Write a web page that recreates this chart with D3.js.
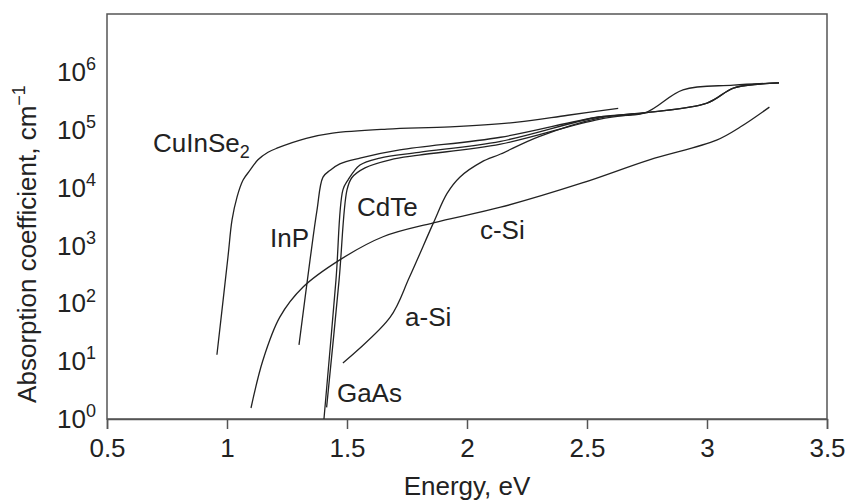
<!DOCTYPE html>
<html>
<head>
<meta charset="utf-8">
<script src="https://cdn.jsdelivr.net/npm/d3@7"></script>
<style>
  body { margin: 0; background: #fff; }
  text { font-family: "Liberation Sans", Arial, sans-serif; fill: #222; }
</style>
</head>
<body>
<div id="chart"></div>
<script>
const width = 849;
const height = 501;

// energy (eV) and log10 of absorption coefficient (cm^-1)
const cuinse2E = [0.958, 1.004, 1.021, 1.042, 1.067, 1.096, 1.129, 1.171, 1.208, 1.33, 1.44, 1.667, 1.93, 2.21, 2.42, 2.63];
const cuinse2A = [1.11, 2.8, 3.44, 3.84, 4.13, 4.30, 4.48, 4.61, 4.68, 4.85, 4.94, 5.01, 5.05, 5.13, 5.25, 5.37];

const inpE = [1.30, 1.346, 1.375, 1.40, 1.43, 1.47, 1.554, 1.72, 2.14, 2.55, 2.74, 3.0, 3.11, 3.22, 3.3];
const inpA = [1.28, 2.75, 3.61, 4.18, 4.30, 4.41, 4.51, 4.65, 4.87, 5.22, 5.29, 5.46, 5.72, 5.79, 5.81];

const gaasE = [1.404, 1.454, 1.483, 1.504, 1.554, 1.637, 1.80, 2.14, 2.55, 2.74, 2.9, 3.11, 3.3];
const gaasA = [0.0, 2.4, 3.96, 4.13, 4.39, 4.51, 4.61, 4.80, 5.22, 5.29, 5.69, 5.77, 5.81];

const cdteE = [1.415, 1.467, 1.50, 1.52, 1.575, 1.68, 1.80, 2.14, 2.55, 2.74, 3.0, 3.11, 3.22, 3.3];
const cdteA = [0.2, 2.4, 3.96, 4.17, 4.34, 4.48, 4.56, 4.75, 5.18, 5.29, 5.46, 5.72, 5.79, 5.81];

const asiE = [1.483, 1.68, 1.76, 1.86, 1.917, 1.97, 2.06, 2.14, 2.3, 2.55, 2.74];
const asiA = [0.97, 1.76, 2.45, 3.39, 3.9, 4.18, 4.44, 4.58, 4.88, 5.2, 5.29];

const csiE = [1.10, 1.15, 1.22, 1.317, 1.47, 1.65, 1.86, 2.14, 2.48, 2.76, 3.04, 3.14, 3.26];
const csiA = [0.19, 1.02, 1.76, 2.28, 2.75, 3.15, 3.39, 3.66, 4.08, 4.48, 4.82, 5.05, 5.39];

const xTicks = [0.5, 1, 1.5, 2, 2.5, 3, 3.5];
const yTicks = [0, 1, 2, 3, 4, 5, 6];

const series = [
  {name: "CuInSe2", e: cuinse2E, a: cuinse2A},
  {name: "InP", e: inpE, a: inpA},
  {name: "GaAs", e: gaasE, a: gaasA},
  {name: "CdTe", e: cdteE, a: cdteA},
  {name: "a-Si", e: asiE, a: asiA},
  {name: "c-Si", e: csiE, a: csiA}
];

const labels = [
  {text: "CuInSe", sub: "2", e: 0.692, a: 4.61},
  {text: "InP", e: 1.179, a: 2.97},
  {text: "CdTe", e: 1.542, a: 3.51},
  {text: "c-Si", e: 2.054, a: 3.11},
  {text: "a-Si", e: 1.742, a: 1.61},
  {text: "GaAs", e: 1.458, a: 0.29}
];

const margin = {left: 107, right: 22, top: 14, bottom: 82};
const fs = 26;
const fsSmall = 18;

const svg = d3.select("#chart").append("svg")
  .attr("width", width)
  .attr("height", height);

const x = d3.scaleLinear()
  .domain([0.5, 3.5])
  .range([margin.left, width - margin.right]);

const y = d3.scaleLog()
  .domain([1, 1e7])
  .range([height - margin.bottom, margin.top]);

// frame
svg.append("rect")
  .attr("x", x(0.5)).attr("y", y(1e7))
  .attr("width", x(3.5) - x(0.5))
  .attr("height", y(1) - y(1e7))
  .attr("fill", "none")
  .attr("stroke", "#555")
  .attr("stroke-width", 1.5);

const xAxis = svg.append("g")
  .attr("transform", `translate(0,${y(1)})`)
  .call(d3.axisBottom(x).tickValues(xTicks).tickSize(10).tickPadding(10)
        .tickFormat(d3.format("~g")));
xAxis.select(".domain").attr("stroke", "#555").attr("stroke-width", 1.5);
xAxis.selectAll(".tick line").attr("stroke", "#555").attr("stroke-width", 1.5);
xAxis.selectAll(".tick text")
  .attr("font-size", fs)
  .attr("fill", "#222")
  .style("font-family", "'Liberation Sans', Arial, sans-serif");

const yLab = svg.append("g");
yTicks.forEach(p => {
  const t = yLab.append("text")
    .attr("x", 60)
    .attr("y", y(Math.pow(10, p)))
    .attr("dy", "0.35em")
    .attr("font-size", fs);
  t.append("tspan").text("10");
  t.append("tspan").attr("font-size", fsSmall).attr("dy", "-0.6em").text(p);
  const w = t.node().getComputedTextLength();
  t.attr("x", 96 - w);
});

const line = d3.line()
  .x(d => x(d[0]))
  .y(d => y(Math.pow(10, d[1])))
  .curve(d3.curveCatmullRom.alpha(0.5));

svg.append("g").selectAll("path")
  .data(series)
  .join("path")
  .attr("d", s => line(s.e.map((v, i) => [v, s.a[i]])))
  .attr("fill", "none")
  .attr("stroke", "#222")
  .attr("stroke-width", 1.3);

const lab = svg.append("g").selectAll("text")
  .data(labels)
  .join("text")
  .attr("x", d => x(d.e))
  .attr("y", d => y(Math.pow(10, d.a)))
  .attr("font-size", fs)
  .text(d => d.text);
lab.filter(d => d.sub)
  .append("tspan")
  .attr("font-size", fsSmall)
  .attr("dy", 6)
  .text(d => d.sub);

svg.append("text")
  .attr("x", x(2))
  .attr("y", 495)
  .attr("text-anchor", "middle")
  .attr("font-size", fs)
  .text("Energy, eV");

const yt = svg.append("text")
  .attr("transform", `translate(36,244) rotate(-90)`)
  .attr("text-anchor", "middle")
  .attr("font-size", fs);
yt.append("tspan").text("Absorption coefficient, cm");
yt.append("tspan").attr("font-size", fsSmall).attr("dy", "-0.6em").text("\u22121");
</script>
</body>
</html>
